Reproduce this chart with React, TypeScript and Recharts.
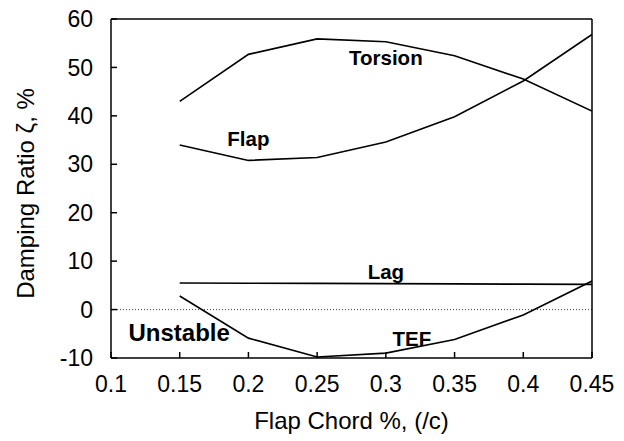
import React from "react";
import {
  LineChart,
  Line,
  XAxis,
  YAxis,
  ReferenceLine,
  ReferenceDot,
  Label,
} from "recharts";

const flapChord = [0.15, 0.2, 0.25, 0.3, 0.35, 0.4, 0.45];
const torsion = [43.0, 52.7, 55.9, 55.3, 52.4, 47.6, 41.0];
const flap = [34.0, 30.8, 31.4, 34.6, 39.8, 47.2, 56.8];
const lag = [5.5, 5.45, 5.4, 5.35, 5.3, 5.25, 5.2];
const tef = [2.8, -5.9, -9.8, -9.0, -6.2, -1.1, 5.9];

const xTicks = [0.1, 0.15, 0.2, 0.25, 0.3, 0.35, 0.4, 0.45];
const yTicks = [-10, 0, 10, 20, 30, 40, 50, 60];

const annotationText = ["Torsion", "Flap", "Lag", "TEF", "Unstable"];
const annotationX = [0.3, 0.2, 0.3, 0.319, 0.1496];
const annotationY = [52.0, 35.2, 7.8, -6.0, -4.8];
const annotationSize = [20.5, 20.5, 20.5, 20.5, 24];

const rows = flapChord.map((x, i) => ({
  x,
  torsion: torsion[i],
  flap: flap[i],
  lag: lag[i],
  tef: tef[i],
}));

const FONT = "'Liberation Sans', Arial, Helvetica, sans-serif";
const tickStyle = { fill: "#000", fontSize: 23, fontFamily: FONT };

const seriesKeys = ["torsion", "flap", "lag", "tef"];

export default function App() {
  return (
    <div style={{ position: "absolute", left: 0, top: 0, background: "#fff" }}>
      <LineChart
        width={624}
        height={441}
        data={rows}
        margin={{ top: 18, right: 31, bottom: 0, left: 0 }}
      >
        <XAxis
          xAxisId="b"
          dataKey="x"
          type="number"
          domain={[0.1, 0.45]}
          ticks={xTicks}
          allowDataOverflow
          height={83}
          tickSize={-6}
          tickMargin={23.4}
          tick={tickStyle}
          axisLine={{ stroke: "#000", strokeWidth: 1.5 }}
          tickLine={{ stroke: "#000", strokeWidth: 1.5 }}
          tickFormatter={(v: number) => String(v)}
        >
          <Label
            content={(props: any) => {
              const vb = props.viewBox;
              return (
                <text
                  x={vb.x + vb.width / 2}
                  y={429}
                  textAnchor="middle"
                  fill="#000"
                  fontSize={24}
                  fontFamily={FONT}
                >
                  Flap Chord %, (/c)
                </text>
              );
            }}
          />
        </XAxis>
        <XAxis
          xAxisId="t"
          orientation="top"
          type="number"
          dataKey="x"
          domain={[0.1, 0.45]}
          ticks={xTicks}
          allowDataOverflow
          height={1}
          tickSize={-6}
          tick={false}
          axisLine={{ stroke: "#000", strokeWidth: 1.5 }}
          tickLine={{ stroke: "#000", strokeWidth: 1.5 }}
        />
        <YAxis
          yAxisId="l"
          type="number"
          domain={[-10, 60]}
          ticks={yTicks}
          allowDataOverflow
          width={111}
          tickSize={-6}
          tickMargin={24}
          tick={tickStyle}
          axisLine={{ stroke: "#000", strokeWidth: 1.5 }}
          tickLine={{ stroke: "#000", strokeWidth: 1.5 }}
        >
          <Label
            content={(props: any) => {
              const vb = props.viewBox;
              const cx = 25;
              const cy = vb.y + vb.height / 2 + 5;
              return (
                <text
                  x={cx}
                  y={cy}
                  transform={`rotate(-90 ${cx} ${cy})`}
                  textAnchor="middle"
                  dominantBaseline="central"
                  fill="#000"
                  fontSize={24}
                  fontFamily={FONT}
                >
                  Damping Ratio ζ, %
                </text>
              );
            }}
          />
        </YAxis>
        <YAxis
          yAxisId="r"
          orientation="right"
          type="number"
          domain={[-10, 60]}
          ticks={yTicks}
          allowDataOverflow
          width={1}
          tickSize={-6}
          tick={false}
          axisLine={{ stroke: "#000", strokeWidth: 1.5 }}
          tickLine={{ stroke: "#000", strokeWidth: 1.5 }}
        />
        <ReferenceLine
          xAxisId="b"
          yAxisId="l"
          y={0}
          stroke="#444"
          strokeWidth={1}
          strokeDasharray="1 2"
        />
        {seriesKeys.map((k) => (
          <Line
            key={k}
            xAxisId="b"
            yAxisId="l"
            dataKey={k}
            type="linear"
            stroke="#000"
            strokeWidth={1.6}
            dot={false}
            activeDot={false}
            isAnimationActive={false}
          />
        ))}
        {annotationText.map((t, i) => (
          <ReferenceDot
            key={t}
            xAxisId="b"
            yAxisId="l"
            x={annotationX[i]}
            y={annotationY[i]}
            r={0}
            fill="none"
            stroke="none"
            label={
              <Label
                value={t}
                position="center"
                fill="#000"
                fontSize={annotationSize[i]}
                fontWeight="bold"
                fontFamily={FONT}
              />
            }
          />
        ))}
      </LineChart>
    </div>
  );
}
